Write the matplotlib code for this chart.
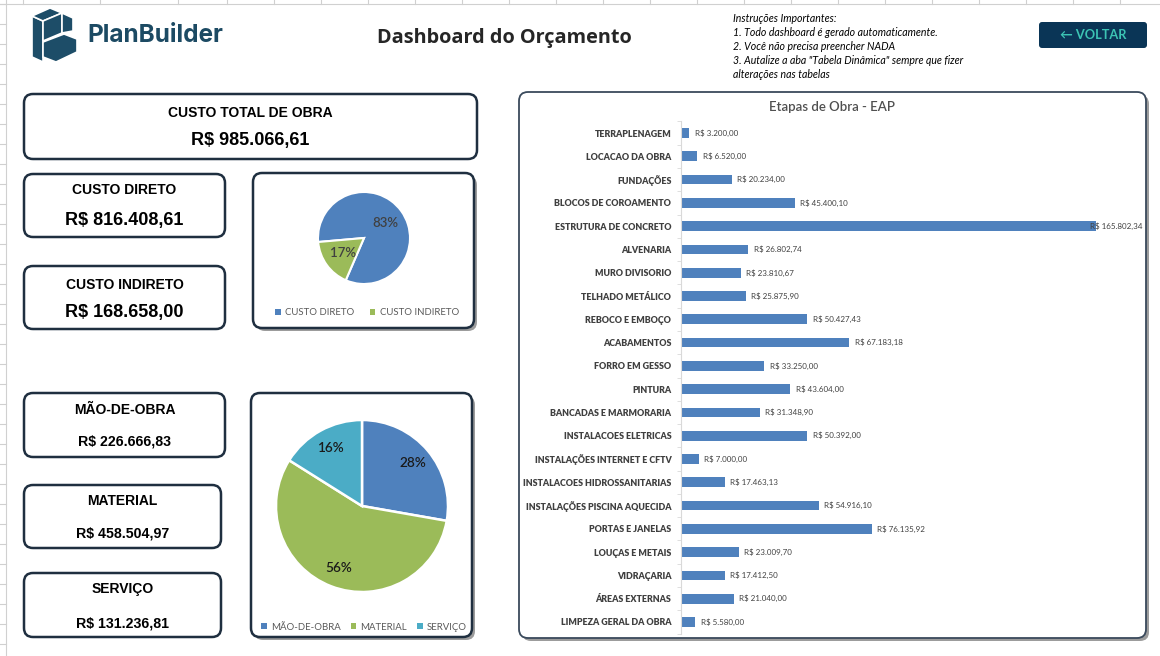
import numpy as np
import matplotlib.pyplot as plt
from matplotlib.patches import FancyBboxPatch, Polygon, Rectangle

# ---- dados ----
custo_direto = 816408.61
custo_indireto = 168658.00
custo_total = custo_direto + custo_indireto

mao_de_obra = 226666.83
material = 458504.97
servico = 131236.81

pie1_labels = ["CUSTO DIRETO", "CUSTO INDIRETO"]
pie1_values = [custo_direto, custo_indireto]
pie2_labels = ["MÃO-DE-OBRA", "MATERIAL", "SERVIÇO"]
pie2_values = [mao_de_obra, material, servico]

etapas = [
    "TERRAPLENAGEM", "LOCACAO DA OBRA", "FUNDAÇÕES", "BLOCOS DE COROAMENTO",
    "ESTRUTURA DE CONCRETO", "ALVENARIA", "MURO DIVISORIO", "TELHADO METÁLICO",
    "REBOCO E EMBOÇO", "ACABAMENTOS", "FORRO EM GESSO", "PINTURA",
    "BANCADAS E MARMORARIA", "INSTALACOES ELETRICAS", "INSTALAÇÕES INTERNET E CFTV",
    "INSTALACOES HIDROSSANITARIAS", "INSTALAÇÕES PISCINA AQUECIDA", "PORTAS E JANELAS",
    "LOUÇAS E METAIS", "VIDRAÇARIA", "ÁREAS EXTERNAS", "LIMPEZA GERAL DA OBRA",
]
valores = [
    3200.00, 6520.00, 20234.00, 45400.10, 165802.34, 26802.74, 23810.67, 25875.90,
    50427.43, 67183.18, 33250.00, 43604.00, 31348.90, 50392.00, 7000.00, 17463.13,
    54916.10, 76135.92, 23009.70, 17412.50, 21040.00, 5580.00,
]

instrucoes = [
    "Instruções Importantes:",
    "1. Todo dashboard é gerado automaticamente.",
    "2. Você não precisa preencher NADA",
    '3. Autalize a aba "Tabela Dinâmica" sempre que fizer',
    "alterações nas tabelas",
]

AZUL = "#4f81bd"
VERDE = "#9bbb59"
CIANO = "#4bacc6"
BORDA = "#1f2f40"
W, H = 1160, 656


def brl(v):
    s = f"{v:,.2f}".replace(",", "X").replace(".", ",").replace("X", ".")
    return "R$ " + s


def fx(x):
    return x / W


def fy(y):
    return 1 - y / H


fig = plt.figure(figsize=(11.6, 6.56), dpi=100)
fig.patch.set_facecolor("white")

bg = fig.add_axes([0, 0, 1, 1])
bg.set_xlim(0, W)
bg.set_ylim(H, 0)
bg.axis("off")

# excel grid bits
bg.plot([0, W], [3.5, 3.5], color="#d0d0d0", lw=0.8)
bg.plot([5.5, 5.5], [0, H], color="#d0d0d0", lw=0.8)
for cx in [23, 100, 178] + list(np.arange(227, W, 47)):
    bg.plot([cx, cx], [0, 3.5], color="#d0d0d0", lw=0.8)
for ry in np.arange(4, H, 20):
    bg.plot([0, 5.5], [ry, ry], color="#d0d0d0", lw=0.8)


def box(x0, y0, x1, y1, shadow=False, lw=1.8, ec=BORDA, r=9):
    if shadow:
        bg.add_patch(FancyBboxPatch((x0 + 3, y0 + 3), x1 - x0, y1 - y0,
                                    boxstyle=f"round,pad=0,rounding_size={r}",
                                    fc="#9c9c9c", ec="none", zorder=1))
    bg.add_patch(FancyBboxPatch((x0, y0), x1 - x0, y1 - y0,
                                boxstyle=f"round,pad=0,rounding_size={r}",
                                fc="white", ec=ec, lw=lw, zorder=2))


def kpi(x0, y0, x1, y1, titulo, valor, ty, vy, vsize):
    box(x0, y0, x1, y1)
    cx = (x0 + x1) / 2
    bg.text(cx, ty, titulo, ha="center", va="center", fontsize=10, fontweight="bold",
            family="Liberation Sans", color="black", zorder=3)
    bg.text(cx, vy, brl(valor), ha="center", va="center", fontsize=vsize, fontweight="bold",
            family="Liberation Sans", color="black", zorder=3)


kpi(24, 94, 477, 159, "CUSTO TOTAL DE OBRA", custo_total, 113, 141, 13)
kpi(24, 174, 225, 237, "CUSTO DIRETO", custo_direto, 190, 220, 13)
kpi(24, 266, 225, 329, "CUSTO INDIRETO", custo_indireto, 285, 313, 13)
kpi(24, 393, 225, 457, "MÃO-DE-OBRA", mao_de_obra, 410, 442, 10.2)
kpi(24, 485, 221, 548, "MATERIAL", material, 501, 533, 10.2)
kpi(24, 573, 221, 637, "SERVIÇO", servico, 589, 623, 10.2)

box(253, 173, 474, 328, shadow=True)
box(251, 393, 472, 637, shadow=True)
box(519, 92, 1146, 638, shadow=True, lw=1.3, ec="#3a4a5c")

# ---- header ----
logo_c = "#1d4d68"
for pts in [
    [(32, 16), (43, 21), (43, 62), (32, 57)],
    [(32, 16), (50, 8), (62, 13), (43, 21)],
    [(43, 21), (62, 13), (62, 33), (43, 41)],
    [(62, 13), (73, 18), (73, 31), (62, 33)],
    [(43, 42), (64, 34), (77, 39), (77, 52), (56, 62), (43, 57)],
]:
    bg.add_patch(Polygon(pts, closed=True, fc=logo_c, ec="white", lw=1.2, zorder=3))
bg.text(87, 36, "PlanBuilder", ha="left", va="center", fontsize=17.5, fontweight="bold",
        family="Inter", color="#1c4a63")
bg.text(504, 38, "Dashboard do Orçamento", ha="center", va="center", fontsize=14.3,
        fontweight="bold", family="Open Sans", color="#262626")
for k, linha in enumerate(instrucoes):
    bg.text(733, 19 + k * 13.8, linha, ha="left", va="center", fontsize=7.6, style="italic",
            family="Lato", color="black")
bg.add_patch(FancyBboxPatch((1039, 22), 108, 26, boxstyle="round,pad=0,rounding_size=3",
                            fc="#0a3556", ec="none", zorder=2))
bg.text(1093, 35, "← VOLTAR", ha="center", va="center", fontsize=9.2, fontweight="bold",
        family=["Lato", "DejaVu Sans"], color="#3cc4b4", zorder=3)


# ---- pies ----
def pie_axes(cx, cy, r):
    ax = fig.add_axes([fx(cx - r), fy(cy + r), 2 * r / W, 2 * r / H])
    ax.set_facecolor("none")
    return ax


def squares(cols):
    return [Rectangle((0, 0), 1, 1, fc=c, ec="none") for c in cols]


ax1 = pie_axes(364, 238, 46)
w1, _, t1 = ax1.pie(pie1_values, colors=[AZUL, VERDE], startangle=185, counterclock=False,
                    autopct="%1.0f%%", pctdistance=0.57,
                    wedgeprops=dict(edgecolor="white", linewidth=1.5),
                    textprops=dict(fontsize=9.5, color="#404040", family="Lato",
                                   fontweight="semibold"))
ax1.set_xlim(-1, 1)
ax1.set_ylim(-1, 1)
ax1.axis("off")
ax1.legend(squares([AZUL, VERDE]), pie1_labels, loc="center", bbox_to_anchor=(fx(367), fy(313)),
           bbox_transform=fig.transFigure, ncol=2, frameon=False,
           prop=dict(family="Lato", size=6.9), labelcolor="#595959",
           handlelength=0.6, handleheight=0.6, handletextpad=0.45, columnspacing=1.6)

ax2 = pie_axes(362, 506, 86)
w2, _, t2 = ax2.pie(pie2_values, colors=[AZUL, VERDE, CIANO], startangle=90, counterclock=False,
                    autopct="%1.0f%%", pctdistance=0.77,
                    wedgeprops=dict(edgecolor="white", linewidth=1.8),
                    textprops=dict(fontsize=9.8, color="#1a1a1a", family="Lato",
                                   fontweight="semibold"))
ax2.set_xlim(-1, 1)
ax2.set_ylim(-1, 1)
ax2.axis("off")
ax2.legend(squares([AZUL, VERDE, CIANO]), pie2_labels, loc="center",
           bbox_to_anchor=(fx(364), fy(627)),
           bbox_transform=fig.transFigure, ncol=3, frameon=False,
           prop=dict(family="Lato", size=6.9), labelcolor="#595959",
           handlelength=0.6, handleheight=0.6, handletextpad=0.45, columnspacing=1.0)

# ---- barras ----
top, bottom = 121.4, 633.6
axb = fig.add_axes([fx(681), fy(bottom), (1140 - 681) / W, (bottom - top) / H])
axb.set_facecolor("none")
pos = np.arange(len(etapas))
axb.barh(pos, valores, height=0.42, color=AZUL)
xmax = max(valores) * 1.105
axb.set_xlim(0, xmax)
axb.set_ylim(len(etapas) - 0.5, -0.5)
axb.set_xticks([])
axb.set_yticks(pos)
axb.set_yticklabels(etapas, fontsize=6.4, fontweight="heavy", family="Lato", color="#404040")
axb.set_yticks(np.arange(-0.5, len(etapas), 1), minor=True)
axb.tick_params(axis="y", which="major", length=0, pad=7)
axb.tick_params(axis="y", which="minor", length=3, color="#d9d9d9")
for s in ["top", "right", "bottom"]:
    axb.spines[s].set_visible(False)
axb.spines["left"].set_color("#d9d9d9")
for i, v in enumerate(valores):
    if v == max(valores):
        axb.annotate(brl(v), (xmax, i), xytext=(2, 0), textcoords="offset points",
                     ha="right", va="center", fontsize=5.8, family="Lato", color="#404040")
    else:
        axb.annotate(brl(v), (v, i), xytext=(4, 0), textcoords="offset points",
                     ha="left", va="center", fontsize=5.8, family="Lato", color="#404040")

bg.text(832, 107, "Etapas de Obra - EAP", ha="center", va="center", fontsize=9.5,
        family="Lato", fontweight="semibold", color="#505050", zorder=3)

fig.savefig("out.png", dpi=100)
